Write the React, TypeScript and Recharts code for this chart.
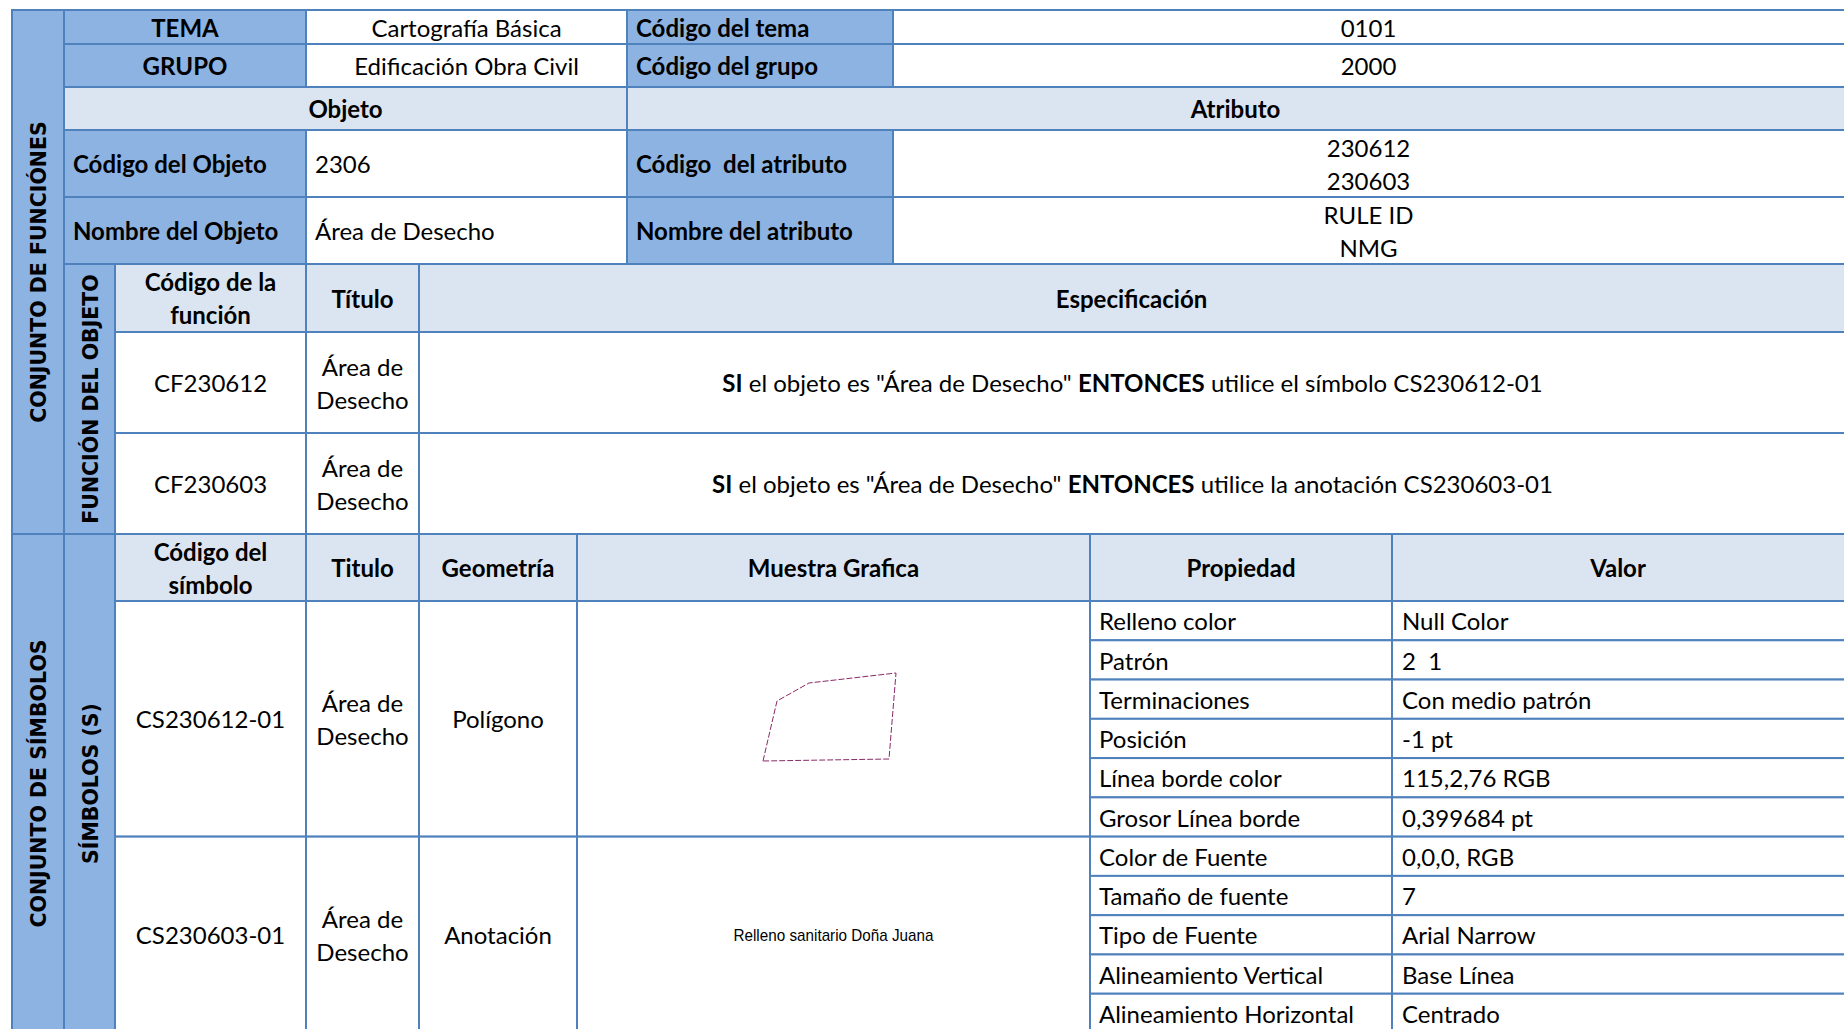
import React from 'react';
import { Surface, Layer, LineChart, Line, XAxis, YAxis } from 'recharts';

// ---------- data ----------
const sectionTitles = ['CONJUNTO DE FUNCIÓNES', 'CONJUNTO DE SÍMBOLOS'];
const subSectionTitles = ['FUNCIÓN DEL OBJETO', 'SÍMBOLOS (S)'];

const infoLabels = ['TEMA', 'GRUPO'];
const infoValues = ['Cartografía Básica', 'Edificación Obra Civil'];
const infoCodeLabels = ['Código del tema', 'Código del grupo'];
const infoCodes = ['0101', '2000'];

const blockHeaders = ['Objeto', 'Atributo'];
const objectLabels = ['Código del Objeto', 'Nombre del Objeto'];
const objectValues = ['2306', 'Área de Desecho'];
const attributeLabels = ['Código  del atributo', 'Nombre del atributo'];
const attributeValues = [
  ['230612', '230603'],
  ['RULE ID', 'NMG'],
];

const functionHeaders = [['Código de la', 'función'], ['Título'], ['Especificación']];
const functionCodes = ['CF230612', 'CF230603'];
const functionTitles = [
  ['Área de', 'Desecho'],
  ['Área de', 'Desecho'],
];
const functionSpecs = [
  [
    { t: 'SI', b: true },
    { t: ' el objeto es "Área de Desecho" ', b: false },
    { t: 'ENTONCES', b: true },
    { t: ' utilice el símbolo CS230612-01', b: false },
  ],
  [
    { t: 'SI', b: true },
    { t: ' el objeto es "Área de Desecho" ', b: false },
    { t: 'ENTONCES', b: true },
    { t: ' utilice la anotación CS230603-01', b: false },
  ],
];

const symbolHeaders = [['Código del', 'símbolo'], ['Titulo'], ['Geometría'], ['Muestra Grafica'], ['Propiedad'], ['Valor']];
const symbolCodes = ['CS230612-01', 'CS230603-01'];
const symbolTitles = [
  ['Área de', 'Desecho'],
  ['Área de', 'Desecho'],
];
const symbolGeometries = ['Polígono', 'Anotación'];
const propertyNames = [
  ['Relleno color', 'Patrón', 'Terminaciones', 'Posición', 'Línea borde color', 'Grosor Línea borde'],
  ['Color de Fuente', 'Tamaño de fuente', 'Tipo de Fuente', 'Alineamiento Vertical', 'Alineamiento Horizontal'],
];
const propertyValues = [
  ['Null Color', '2  1', 'Con medio patrón', '-1 pt', '115,2,76 RGB', '0,399684 pt'],
  ['0,0,0, RGB', '7', 'Arial Narrow', 'Base Línea', 'Centrado'],
];

// polygon sample vertices (sample units)
const polygonSample = [
  { x: 8, y: 9 },
  { x: 22, y: 69 },
  { x: 54, y: 87 },
  { x: 141, y: 97 },
  { x: 134, y: 11 },
  { x: 8, y: 9 },
];
const annotationSample = 'Relleno sanitario Doña Juana';

// ---------- layout / style ----------
const W = 1844;
const H = 1029;
const BORDER = '#4F81BD';
const DARK = '#8DB3E2';
const LIGHT = '#DBE5F1';
const WHITE = '#FFFFFF';
const FONT = "Lato, 'Noto Sans', sans-serif";
const FS = 24;
const LINE_GAP = 33;
const BASE = 0.4;

const X = { a: 12, b: 64, c: 115, d: 306, e: 419, f: 577, g: 627, h: 893, i: 1090, j: 1392, r: 1852 };
const Y = { top: 10, r1: 44, r2: 87, r3: 130, r4: 197, r5: 264, r6: 332, r7: 433, r8: 534, r9: 601, bottom: 1033 };
const PH = (Y.bottom - Y.r9) / 11;

let k = 0;
const key = () => `k${k++}`;

function cell(x0: number, x1: number, y0: number, y1: number, fill: string) {
  return <rect key={key()} x={x0} y={y0} width={x1 - x0} height={y1 - y0} fill={fill} stroke={BORDER} strokeWidth={2} />;
}

function txt(x: number, cy: number, s: string, anchor: 'start' | 'middle' = 'middle', bold = false) {
  return (
    <text
      key={key()}
      x={x}
      y={cy + FS * BASE}
      textAnchor={anchor}
      fontFamily={FONT}
      fontSize={FS}
      fontWeight={bold ? 700 : 400}
      fill="#000"
      style={{ whiteSpace: 'pre' }}
    >
      {s}
    </text>
  );
}

function lines(x: number, cy: number, arr: string[], bold = false) {
  const n = arr.length;
  return arr.map((s, i) => txt(x, cy + (i - (n - 1) / 2) * LINE_GAP, s, 'middle', bold));
}

function vtext(cx: number, cy: number, s: string) {
  return (
    <text
      key={key()}
      x={cx}
      y={cy}
      textAnchor="middle"
      dominantBaseline="central"
      fontFamily="'DejaVu Sans', Verdana, sans-serif"
      fontSize={20.5}
      fontWeight={700}
      fill="#000"
      transform={`rotate(-90 ${cx} ${cy})`}
    >
      {s}
    </text>
  );
}

const mid = (a: number, b: number) => (a + b) / 2;

function TableLayer() {
  k = 0;
  const els: React.ReactNode[] = [];
  // left bands
  els.push(cell(X.a, X.b, Y.top, Y.r8, DARK));
  els.push(cell(X.a, X.b, Y.r8, Y.bottom, DARK));
  els.push(cell(X.b, X.c, Y.r5, Y.r8, DARK));
  els.push(cell(X.b, X.c, Y.r8, Y.bottom, DARK));
  els.push(vtext(mid(X.a, X.b) + 1, mid(Y.top, Y.r8), sectionTitles[0]));
  els.push(vtext(mid(X.a, X.b) + 1, mid(Y.r8, Y.bottom), sectionTitles[1]));
  els.push(vtext(mid(X.b, X.c) + 1, mid(Y.r5, Y.r8), subSectionTitles[0]));
  els.push(vtext(mid(X.b, X.c) + 1, mid(Y.r8, Y.bottom), subSectionTitles[1]));

  // tema / grupo
  const infoRows = [
    [Y.top, Y.r1],
    [Y.r1, Y.r2],
  ];
  infoRows.forEach(([y0, y1], i) => {
    const cy = mid(y0, y1);
    els.push(cell(X.b, X.d, y0, y1, DARK));
    els.push(cell(X.d, X.g, y0, y1, WHITE));
    els.push(cell(X.g, X.h, y0, y1, DARK));
    els.push(cell(X.h, X.r, y0, y1, WHITE));
    els.push(txt(mid(X.b, X.d), cy, infoLabels[i], 'middle', true));
    els.push(txt(mid(X.d, X.g), cy, infoValues[i]));
    els.push(txt(X.g + 9, cy, infoCodeLabels[i], 'start', true));
    els.push(txt(mid(X.h, X.r - 8), cy, infoCodes[i]));
  });

  // objeto / atributo header
  els.push(cell(X.b, X.g, Y.r2, Y.r3, LIGHT));
  els.push(cell(X.g, X.r, Y.r2, Y.r3, LIGHT));
  els.push(txt(mid(X.b, X.g), mid(Y.r2, Y.r3), blockHeaders[0], 'middle', true));
  els.push(txt(mid(X.g, X.r - 8), mid(Y.r2, Y.r3), blockHeaders[1], 'middle', true));

  const objRows = [
    [Y.r3, Y.r4],
    [Y.r4, Y.r5],
  ];
  objRows.forEach(([y0, y1], i) => {
    const cy = mid(y0, y1);
    els.push(cell(X.b, X.d, y0, y1, DARK));
    els.push(cell(X.d, X.g, y0, y1, WHITE));
    els.push(cell(X.g, X.h, y0, y1, DARK));
    els.push(cell(X.h, X.r, y0, y1, WHITE));
    els.push(txt(X.b + 9, cy, objectLabels[i], 'start', true));
    els.push(txt(X.d + 9, cy, objectValues[i], 'start'));
    els.push(txt(X.g + 9, cy, attributeLabels[i], 'start', true));
    els.push(...lines(mid(X.h, X.r - 8), cy, attributeValues[i]));
  });

  // function header
  const fCols = [
    [X.c, X.d],
    [X.d, X.e],
    [X.e, X.r],
  ];
  fCols.forEach(([x0, x1], i) => {
    els.push(cell(x0, x1, Y.r5, Y.r6, LIGHT));
    els.push(...lines(mid(x0, x1 === X.r ? X.r - 8 : x1), mid(Y.r5, Y.r6), functionHeaders[i], true));
  });
  const fRows = [
    [Y.r6, Y.r7],
    [Y.r7, Y.r8],
  ];
  fRows.forEach(([y0, y1], i) => {
    const cy = mid(y0, y1);
    els.push(cell(X.c, X.d, y0, y1, WHITE));
    els.push(cell(X.d, X.e, y0, y1, WHITE));
    els.push(cell(X.e, X.r, y0, y1, WHITE));
    els.push(txt(mid(X.c, X.d), cy, functionCodes[i]));
    els.push(...lines(mid(X.d, X.e), cy, functionTitles[i]));
    els.push(
      <text
        key={key()}
        x={mid(X.e, X.r - 8) + 1}
        y={cy + FS * BASE}
        textAnchor="middle"
        fontFamily={FONT}
        fontSize={FS}
        fill="#000"
        style={{ whiteSpace: 'pre' }}
      >
        {functionSpecs[i].map((seg, j) => (
          <tspan key={j} fontWeight={seg.b ? 700 : 400}>
            {seg.t}
          </tspan>
        ))}
      </text>
    );
  });

  // symbol header
  const sCols = [
    [X.c, X.d],
    [X.d, X.e],
    [X.e, X.f],
    [X.f, X.i],
    [X.i, X.j],
    [X.j, X.r],
  ];
  sCols.forEach(([x0, x1], i) => {
    els.push(cell(x0, x1, Y.r8, Y.r9, LIGHT));
    els.push(...lines(mid(x0, x1 === X.r ? X.r - 8 : x1), mid(Y.r8, Y.r9), symbolHeaders[i], true));
  });

  // symbol rows
  let rowStart = Y.r9;
  symbolCodes.forEach((code, i) => {
    const n = propertyNames[i].length;
    const y0 = rowStart;
    const y1 = y0 + n * PH;
    const cy = mid(y0, y1);
    els.push(cell(X.c, X.d, y0, y1, WHITE));
    els.push(cell(X.d, X.e, y0, y1, WHITE));
    els.push(cell(X.e, X.f, y0, y1, WHITE));
    els.push(cell(X.f, X.i, y0, y1, WHITE));
    els.push(txt(mid(X.c, X.d), cy, code));
    els.push(...lines(mid(X.d, X.e), cy, symbolTitles[i]));
    els.push(txt(mid(X.e, X.f), cy, symbolGeometries[i]));
    propertyNames[i].forEach((name, p) => {
      const py0 = y0 + p * PH;
      const py1 = py0 + PH;
      const pcy = mid(py0, py1);
      els.push(cell(X.i, X.j, py0, py1, WHITE));
      els.push(cell(X.j, X.r, py0, py1, WHITE));
      els.push(txt(X.i + 9, pcy, name, 'start'));
      els.push(txt(X.j + 10, pcy, propertyValues[i][p], 'start'));
    });
    if (i === 1) {
      els.push(
        <text
          key={key()}
          x={mid(X.f, X.i)}
          y={cy + 6}
          textAnchor="middle"
          fontFamily="'Liberation Sans', Arial, sans-serif"
          fontSize={17}
          textLength={200}
          lengthAdjust="spacingAndGlyphs"
          fill="#000"
        >
          {annotationSample}
        </text>
      );
    }
    rowStart = y1;
  });

  return <Layer>{els}</Layer>;
}

export default function App() {
  return (
    <div style={{ position: 'absolute', left: 0, top: 0, width: W, height: H, overflow: 'hidden', background: '#fff' }}>
      <Surface width={W} height={H} style={{ display: 'block' }}>
        <TableLayer />
      </Surface>
      <div style={{ position: 'absolute', left: 755, top: 665 }}>
        <LineChart width={150} height={105} data={polygonSample} margin={{ top: 0, right: 0, bottom: 0, left: 0 }}>
          <XAxis type="number" dataKey="x" domain={[0, 150]} hide />
          <YAxis type="number" domain={[0, 105]} hide />
          <Line
            type="linear"
            dataKey="y"
            stroke="#8A2A66"
            strokeWidth={1}
            strokeDasharray="6 2"
            dot={false}
            isAnimationActive={false}
          />
        </LineChart>
      </div>
    </div>
  );
}
